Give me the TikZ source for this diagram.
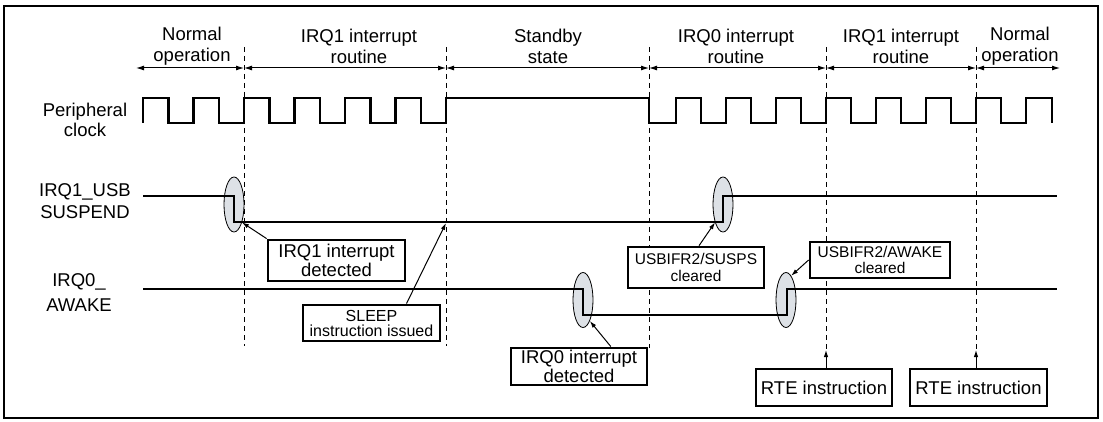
\documentclass[tikz,border=0pt]{standalone}
\usepackage{fontspec}
\setmainfont{Liberation Sans}
\usetikzlibrary{arrows.meta,shapes.geometric,calc}
\definecolor{blobgray}{RGB}{221,225,230}
\begin{document}
\begin{tikzpicture}[x=1pt,y=-1pt,
  sig/.style={line width=2.8pt, line join=miter},
  guideline/.style={dash pattern=on 5pt off 4pt, line width=1pt},
  phase/.style={{Latex[length=8pt,width=5pt]}-{Latex[length=8pt,width=5pt]}, line width=1pt},
  callout/.style={-{Latex[length=7pt,width=4.5pt]}, line width=1pt},
  note/.style={draw, line width=2.8pt, fill=white, inner sep=0pt, align=center, font=\fontsize{18.5}{15}\selectfont},
  blob/.style={ellipse, draw, line width=0.8pt, fill=blobgray, minimum width=20pt, minimum height=55pt, inner sep=0pt},
  lbl/.style={align=center, inner sep=0pt, font=\fontsize{18.5}{21}\selectfont}
]
\useasboundingbox (0,0) rectangle (1103,422);
\draw[line width=2.4pt] (4,6) rectangle (1098,418);

% phase labels
\node[lbl] (p1) at (192,46) {Normal\\operation};
\node[lbl] (p2) at (359,46) {IRQ1 interrupt\\routine};
\node[lbl] (p3) at (548,46) {Standby\\state};
\node[lbl] (p4) at (736,46) {IRQ0 interrupt\\routine};
\node[lbl] (p5) at (901,46) {IRQ1 interrupt\\routine};
\node[lbl] (p6) at (1020,46) {Normal\\operation};

% phase arrows
\coordinate (t0) at (136,68);
\coordinate (t1) at (244,68);
\coordinate (t2) at (446,68);
\coordinate (t3) at (649,68);
\coordinate (t4) at (826,68);
\coordinate (t5) at (976,68);
\coordinate (t6) at (1060,68);
\draw[phase] (t0) -- (t1);
\draw[phase] (t1) -- (t2);
\draw[phase] (t2) -- (t3);
\draw[phase] (t3) -- (t4);
\draw[phase] (t4) -- (t5);
\draw[phase] (t5) -- (t6);

% left labels
\node[lbl, font=\fontsize{18.5}{20}\selectfont] (lclk) at (85,120) {Peripheral\\clock};
\node[lbl, font=\fontsize{18.5}{22}\selectfont] (lirq1) at (85,201) {IRQ1\_USB\\SUSPEND};
\node[lbl, font=\fontsize{18.5}{25}\selectfont] (lirq0) at (79,292.5) {IRQ0\_\\AWAKE};

% dashed guide lines
\coordinate (rte1) at (826,350);
\coordinate (rte2) at (976,350);
\draw[guideline] (244,47) -- (244,346);
\draw[guideline] (446,47) -- (446,346);
\draw[guideline] (649,47) -- (649,348);
\draw[guideline] (826,47) -- (rte1);
\draw[guideline] (976,47) -- (rte2);

% ellipses
\node[blob] (e1) at (234,204.5) {};
\node[blob] (e2) at (723,204.5) {};
\node[blob] (e3) at (583,300) {};
\node[blob] (e4) at (786,300) {};

% clock
\draw[sig] (143,123) -- (143,98) -- (168.5,98) -- (168.5,123) -- (193.5,123) -- (193.5,98) -- (219,98) -- (219,123)
  -- (244,123) -- (244,98) -- (269.5,98) -- (269.5,123) -- (294.5,123) -- (294.5,98) -- (320,98) -- (320,123)
  -- (345,123) -- (345,98) -- (370.5,98) -- (370.5,123) -- (395.5,123) -- (395.5,98) -- (421,98) -- (421,123)
  -- (446,123) -- (446,98) -- (649,98) -- (649,123) -- (676,123) -- (676,98) -- (701,98) -- (701,123)
  -- (726,123) -- (726,98) -- (751,98) -- (751,123) -- (776,123) -- (776,98) -- (801,98) -- (801,123)
  -- (826,123) -- (826,98) -- (851,98) -- (851,123) -- (876,123) -- (876,98) -- (901,98) -- (901,123)
  -- (926,123) -- (926,98) -- (951,98) -- (951,123) -- (976,123) -- (976,98) -- (1001,98) -- (1001,123)
  -- (1026,123) -- (1026,98) -- (1052,98) -- (1052,123);

% IRQ1_USB SUSPEND
\draw[sig] (143,196) -- (234,196) -- (234,222) -- (723,222) -- (723,196) -- (1057,196);
% IRQ0_AWAKE
\draw[sig] (143,289) -- (583,289) -- (583,315) -- (787,315) -- (787,289) -- (1057,289);

% boxes
\node[note, minimum width=137pt, minimum height=41pt] (b1) at (336.5,260.5) {IRQ1 interrupt\\detected};
\node[note, minimum width=137pt, minimum height=36pt, font=\fontsize{16}{15}\selectfont] (b2) at (371.5,323) {SLEEP\\instruction issued};
\node[note, minimum width=136pt, minimum height=37pt] (b3) at (579,366.5) {IRQ0 interrupt\\detected};
\node[note, minimum width=136pt, minimum height=41pt, font=\fontsize{15.5}{17}\selectfont] (b4) at (696,267.5) {USBIFR2/SUSPS\\cleared};
\node[note, minimum width=140pt, minimum height=36pt, font=\fontsize{15.5}{16}\selectfont] (b5) at (880,260) {USBIFR2/AWAKE\\cleared};
\node[note, minimum width=136pt, minimum height=37pt] (b6) at (824,387.5) {RTE instruction};
\node[note, minimum width=137pt, minimum height=37pt] (b7) at (978.5,387.5) {RTE instruction};

% callouts
\coordinate (sleep) at (446,223);
\draw[callout] (b1.north west) -- (e1.-66);
\draw[callout] (b2.29) -- (sleep);
\draw[callout] (b3.32.5) -- (e3.-72);
\draw[callout] (b4.82) -- (e2.-114);
\draw[callout] (b5.west) -- (e4.78);
\draw[callout] (b6.north -| rte1) -- (rte1);
\draw[callout] (b7.north -| rte2) -- (rte2);
\end{tikzpicture}
\end{document}
